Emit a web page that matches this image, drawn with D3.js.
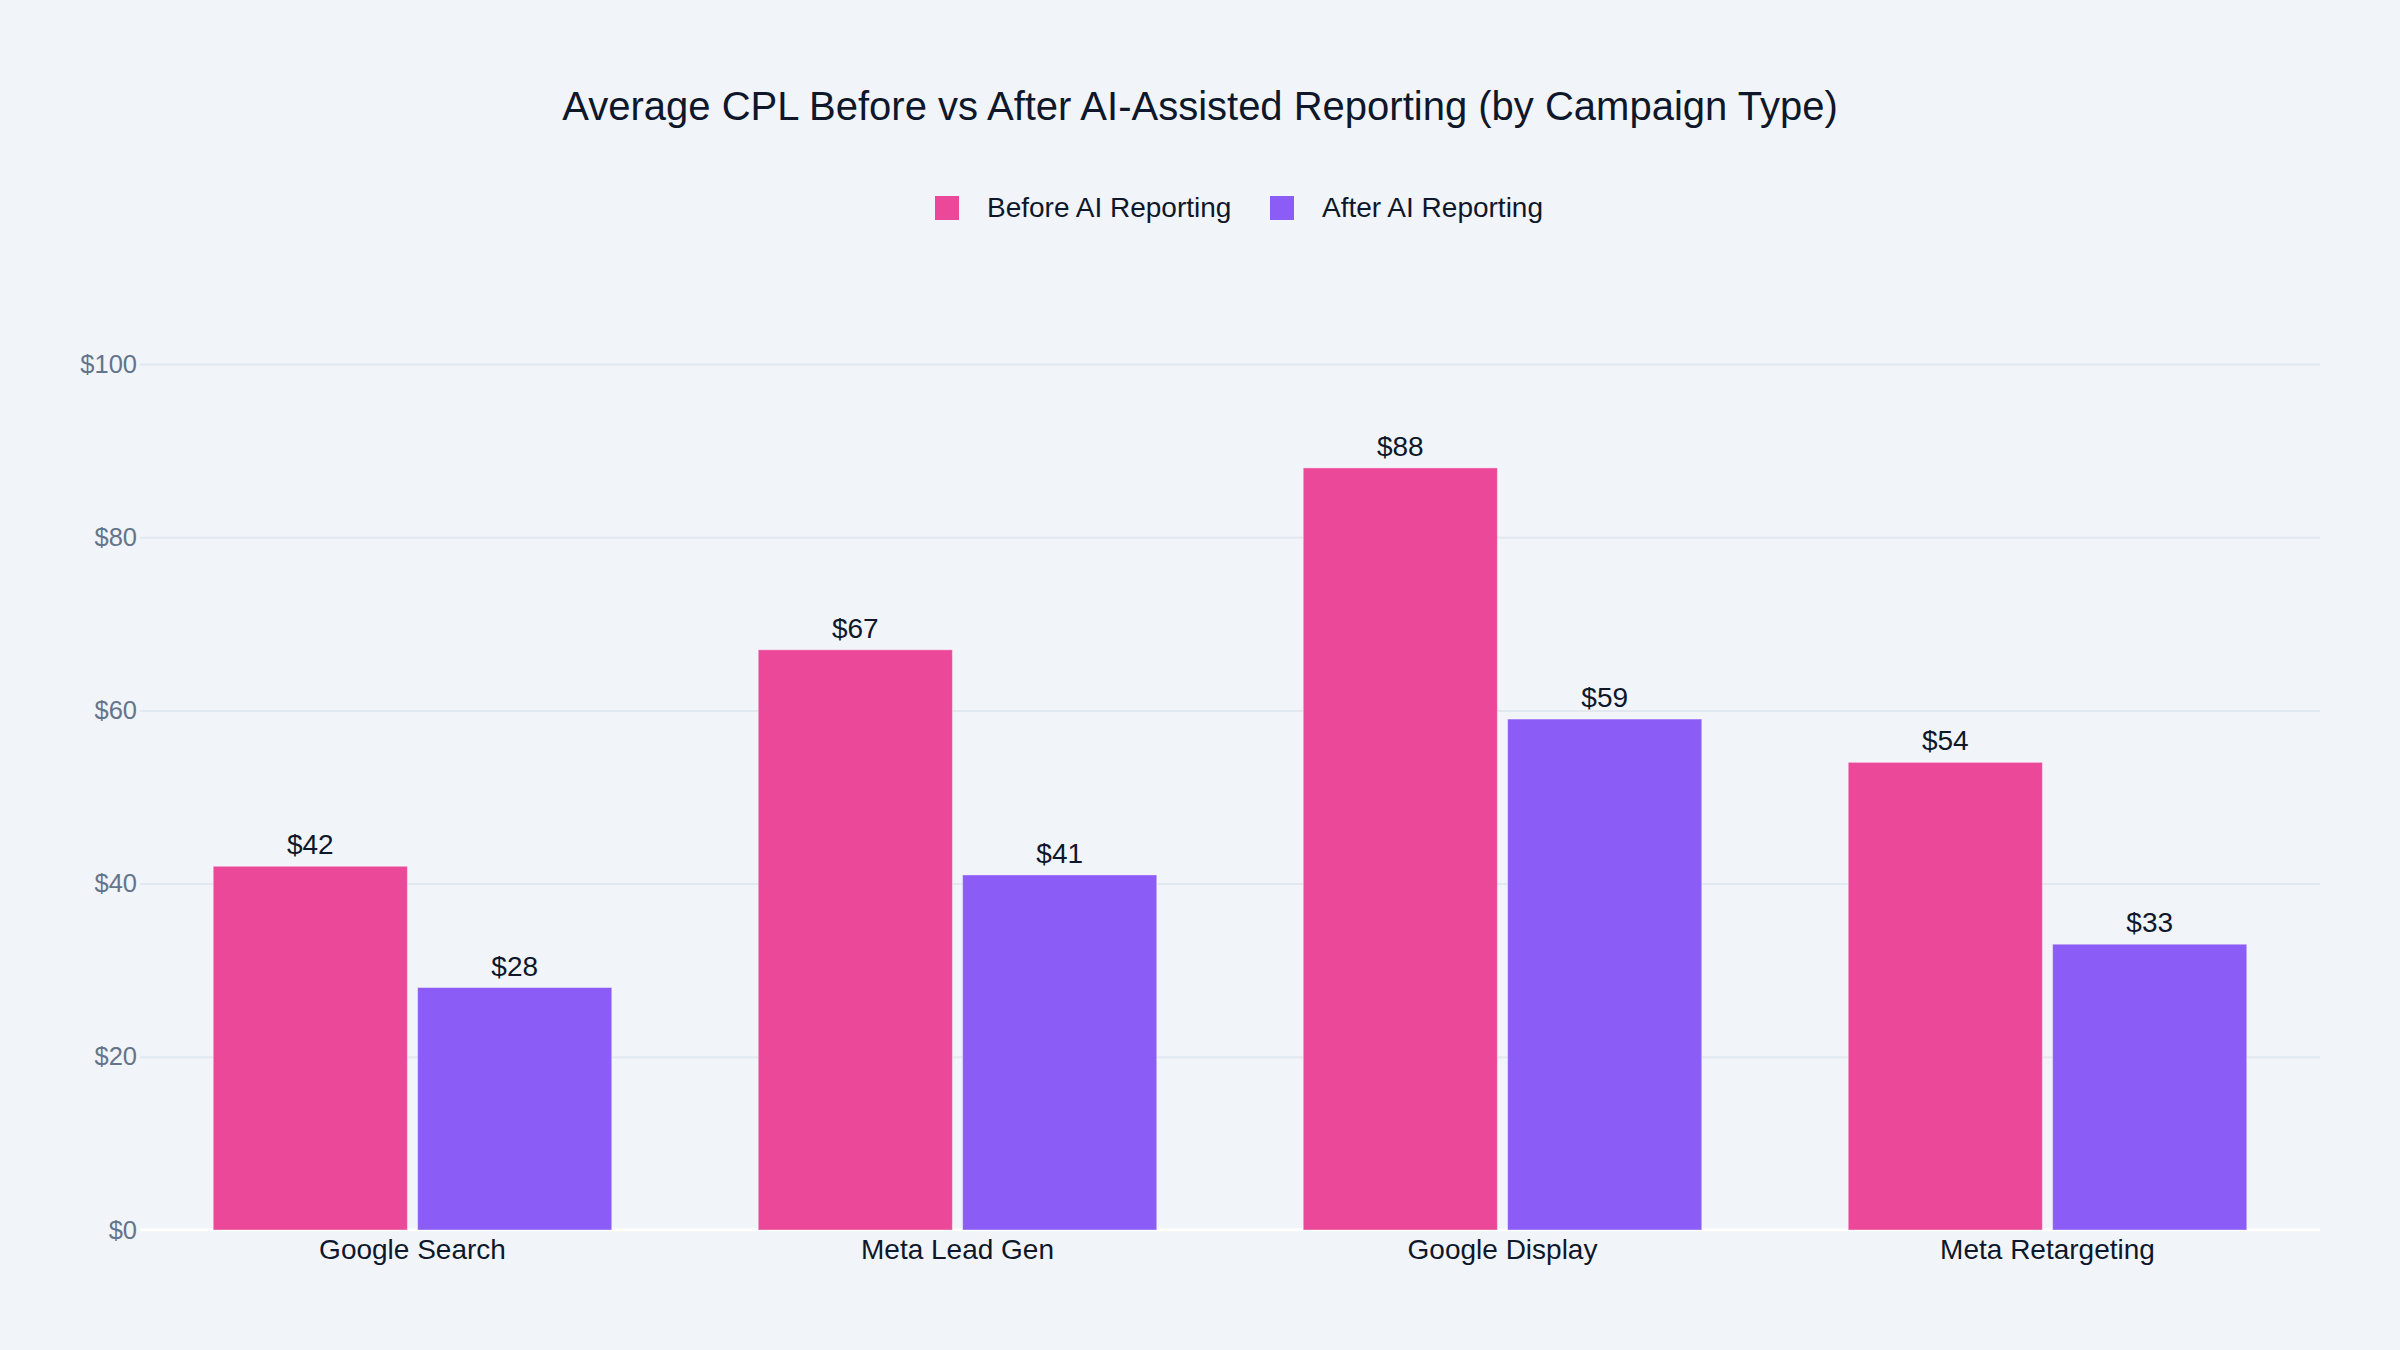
<!DOCTYPE html>
<html>
<head>
<meta charset="utf-8">
<script src="https://cdn.jsdelivr.net/npm/d3@7"></script>
<style>
  html, body { margin: 0; padding: 0; background: #f1f5f9; }
  text { font-family: "Liberation Sans", Arial, Helvetica, sans-serif; }
</style>
</head>
<body>
<script>
var categories = ['Google Search', 'Meta Lead Gen', 'Google Display', 'Meta Retargeting'];
var seriesNames = ['Before AI Reporting', 'After AI Reporting'];
var beforeValues = [42, 67, 88, 54];
var afterValues = [28, 41, 59, 33];
var yTicks = [0, 20, 40, 60, 80, 100];
var colors = ['#ec4899', '#8b5cf6'];

var W = 2400, H = 1350;
var plotLeft = 140, plotRight = 2320, plotTop = 364, plotBottom = 1230;

var svg = d3.select('body').append('svg')
    .attr('width', W)
    .attr('height', H);

svg.append('rect')
    .attr('width', W)
    .attr('height', H)
    .attr('fill', '#f1f5f9');

var x = d3.scaleBand()
    .domain(categories)
    .range([plotLeft, plotRight])
    .paddingInner(0.25)
    .paddingOuter(0.125);

var xSub = d3.scaleBand()
    .domain([0, 1])
    .range([0, x.bandwidth()])
    .paddingInner(0.05)
    .paddingOuter(0.025);

var y = d3.scaleLinear()
    .domain([0, 100])
    .range([plotBottom, plotTop]);

// grid + y labels
var yAxis = d3.axisLeft(y)
    .tickValues(yTicks)
    .tickSizeInner(-(plotRight - plotLeft))
    .tickSizeOuter(0)
    .tickPadding(3)
    .tickFormat(function(d) { return '$' + d; });

var gy = svg.append('g')
    .attr('transform', 'translate(' + plotLeft + ',0)')
    .call(yAxis);
gy.select('.domain').remove();
gy.selectAll('line')
    .attr('stroke', '#e2e8f0')
    .attr('stroke-width', 2);
gy.selectAll('text')
    .attr('fill', '#64748b')
    .attr('font-size', 25.5)
    .style('font-family', '"Liberation Sans", Arial, Helvetica, sans-serif');

// zero line
svg.append('line')
    .attr('x1', plotLeft)
    .attr('x2', plotRight)
    .attr('y1', y(0))
    .attr('y2', y(0))
    .attr('stroke', '#ffffff')
    .attr('stroke-width', 3);

var rows = categories.map(function(c, i) {
    return {cat: c, values: [beforeValues[i], afterValues[i]]};
});

var groups = svg.selectAll('g.cat')
    .data(rows)
    .enter().append('g')
    .attr('class', 'cat')
    .attr('transform', function(d) { return 'translate(' + x(d.cat) + ',0)'; });

groups.selectAll('rect')
    .data(function(d) { return d.values; })
    .enter().append('rect')
    .attr('x', function(d, i) { return xSub(i); })
    .attr('width', xSub.bandwidth())
    .attr('y', function(d) { return y(d); })
    .attr('height', function(d) { return y(0) - y(d); })
    .attr('fill', function(d, i) { return colors[i]; })
    .attr('stroke', 'rgba(255,255,255,0.4)')
    .attr('stroke-width', 1);

groups.selectAll('text.val')
    .data(function(d) { return d.values; })
    .enter().append('text')
    .attr('class', 'val')
    .attr('x', function(d, i) { return xSub(i) + xSub.bandwidth() / 2; })
    .attr('y', function(d) { return y(d) - 12; })
    .attr('text-anchor', 'middle')
    .attr('font-size', 28)
    .attr('fill', '#0f172a')
    .text(function(d) { return '$' + d; });

// x axis labels
var gx = svg.append('g')
    .attr('transform', 'translate(0,' + plotBottom + ')')
    .call(d3.axisBottom(x).tickSize(0).tickPadding(9));
gx.select('.domain').remove();
gx.selectAll('text')
    .attr('fill', '#0f172a')
    .attr('font-size', 28)
    .style('font-family', '"Liberation Sans", Arial, Helvetica, sans-serif');

// title
svg.append('text')
    .attr('x', W / 2)
    .attr('y', 120)
    .attr('text-anchor', 'middle')
    .attr('font-size', 40)
    .attr('fill', '#0f172a')
    .text('Average CPL Before vs After AI-Assisted Reporting (by Campaign Type)');

// legend
var legendX = [935, 1270];
var legend = svg.selectAll('g.legend')
    .data(seriesNames)
    .enter().append('g')
    .attr('class', 'legend')
    .attr('transform', function(d, i) { return 'translate(' + legendX[i] + ',196)'; });
legend.append('rect')
    .attr('width', 24)
    .attr('height', 24)
    .attr('fill', function(d, i) { return colors[i]; });
legend.append('text')
    .attr('x', 52)
    .attr('y', 21)
    .attr('font-size', 28)
    .attr('fill', '#0f172a')
    .text(function(d) { return d; });
</script>
</body>
</html>
